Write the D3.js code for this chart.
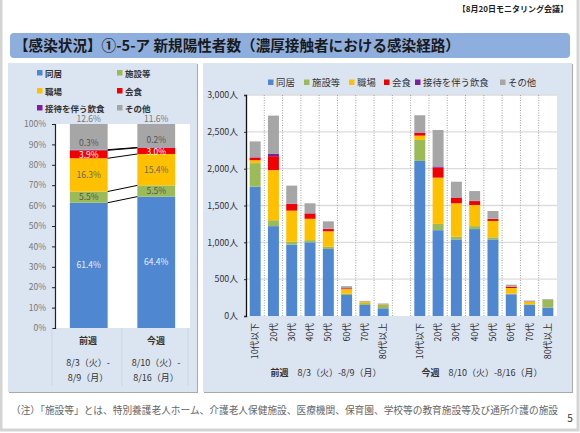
<!DOCTYPE html>
<html>
<head>
  <meta charset="utf-8">
  <script src="https://d3js.org/d3.v7.min.js"></script>
  <style>
    body { margin: 0; background: #fff; }
    text { font-family: "Noto Sans CJK JP", "Noto Sans", sans-serif; }
  </style>
</head>
<body>
  <div id="chart"></div>
  <script>
    // series shared by both charts
    var seriesNames = ["同居", "施設等", "職場", "会食", "接待を伴う飲食", "その他"];
    var seriesColors = ["#4f87d1", "#9bbb59", "#ffc000", "#f00000", "#7a1fa2", "#a6a6a6"];

    // left chart: share by week (%)
    var weeks = ["前週", "今週"];
    var weekDates1 = ["8/3（火）-", "8/10（火）-"];
    var weekDates2 = ["8/9（月）", "8/16（月）"];
    var shareDokyo = [61.4, 64.4];
    var shareShisetsu = [5.5, 5.5];
    var shareShokuba = [16.3, 15.4];
    var shareKaishoku = [3.9, 3.0];
    var shareSettai = [0.3, 0.2];
    var shareSonota = [12.6, 11.6];
    var percentTicks = [0, 10, 20, 30, 40, 50, 60, 70, 80, 90, 100];

    // right chart: people by age, 8 ages + empty slot + 8 ages
    var ages = ["10代以下", "20代", "30代", "40代", "50代", "60代", "70代", "80代以上", "",
                "10代以下", "20代", "30代", "40代", "50代", "60代", "70代", "80代以上"];
    var countDokyo = [1755, 1220, 970, 1000, 910, 285, 150, 105, 0, 2105, 1165, 1040, 1180, 1040, 295, 150, 115];
    var countShisetsu = [320, 80, 40, 30, 30, 20, 25, 50, 0, 285, 85, 37, 40, 28, 10, 10, 105];
    var countShokuba = [40, 680, 420, 290, 210, 60, 20, 5, 0, 58, 628, 453, 287, 222, 75, 30, 0];
    var countKaishoku = [35, 190, 90, 70, 30, 10, 2, 2, 0, 36, 135, 75, 53, 26, 15, 5, 0];
    var countSettai = [5, 30, 5, 5, 5, 3, 1, 0, 0, 6, 17, 5, 5, 4, 2, 0, 0];
    var countSonota = [215, 520, 245, 135, 100, 27, 7, 8, 0, 235, 495, 213, 131, 105, 28, 15, 10];
    var countTicks = [0, 500, 1000, 1500, 2000, 2500, 3000];

    var svg = d3.select("#chart").append("svg")
      .attr("width", 580).attr("height", 433)
      .style("display", "block");

    // slide frame
    svg.append("rect").attr("x", 1).attr("y", -2).attr("width", 577).attr("height", 432)
      .attr("fill", "#fff").attr("stroke", "#d4d4d4").attr("stroke-width", 3);

    svg.append("text").attr("x", 568).attr("y", 12).attr("text-anchor", "end")
      .style("font-size", "8px").style("font-weight", "bold").attr("fill", "#222")
      .text("【8月20日モニタリング会議】");

    // title bar
    svg.append("rect").attr("x", 10).attr("y", 33).attr("width", 560).attr("height", 25).attr("rx", 4)
      .attr("fill", "#8eaedd");
    svg.append("text").attr("x", 14).attr("y", 51)
      .style("font-size", "14.6px").style("font-weight", "bold").attr("fill", "#1a1a1a")
      .text("【感染状況】①-5-ア 新規陽性者数（濃厚接触者における感染経路）");

    // panels
    var panels = [[8, 189], [203, 369]];
    svg.selectAll(".shadow").data(panels).enter().append("rect")
      .attr("x", function(d) { return d[0] + 1; }).attr("y", 64)
      .attr("width", function(d) { return d[1]; }).attr("height", 329)
      .attr("fill", "#a9a9a9");
    svg.selectAll(".panel").data(panels).enter().append("rect")
      .attr("x", function(d) { return d[0]; }).attr("y", 63)
      .attr("width", function(d) { return d[1]; }).attr("height", 329)
      .attr("fill", "#dbe4f1");

    // ---- left chart ----
    var leftTop = 124, leftBottom = 328, leftX0 = 55, leftX1 = 190;
    var shareRows = weeks.map(function(w, i) {
      return {
        week: w,
        "同居": shareDokyo[i], "施設等": shareShisetsu[i], "職場": shareShokuba[i],
        "会食": shareKaishoku[i], "接待を伴う飲食": shareSettai[i], "その他": shareSonota[i]
      };
    });
    var shareStack = d3.stack().keys(seriesNames)(shareRows);

    var xLeft = d3.scaleBand().domain(weeks).range([leftX0, leftX1]).paddingInner(0.44).paddingOuter(0.22);
    var yLeft = d3.scaleLinear().domain([0, 100]).range([leftBottom, leftTop]);

    svg.append("rect").attr("x", leftX0).attr("y", leftTop)
      .attr("width", leftX1 - leftX0).attr("height", leftBottom - leftTop).attr("fill", "#fff");

    shareStack.forEach(function(s, si) {
      svg.append("g").selectAll("rect").data(s).enter().append("rect")
        .attr("x", function(d) { return xLeft(d.data.week); })
        .attr("y", function(d) { return yLeft(Math.min(d[1], 100)); })
        .attr("width", xLeft.bandwidth())
        .attr("height", function(d) { return yLeft(d[0]) - yLeft(Math.min(d[1], 100)); })
        .attr("fill", seriesColors[si]);
    });

    // series lines between the two bars
    shareStack.slice(0, 5).forEach(function(s) {
      svg.append("line")
        .attr("x1", xLeft(weeks[0]) + xLeft.bandwidth()).attr("y1", yLeft(s[0][1]))
        .attr("x2", xLeft(weeks[1])).attr("y2", yLeft(s[1][1]))
        .attr("stroke", "#000").attr("stroke-width", 1);
    });

    // value labels
    var labelColors = ["#e8f0ff", "#555", "#666", "#fff", "#555", "#777"];
    shareStack.forEach(function(s, si) {
      svg.append("g").selectAll("text").data(s).enter().append("text")
        .attr("x", function(d) { return xLeft(d.data.week) + xLeft.bandwidth() / 2; })
        .attr("y", function(d) {
          if (si == 5) return yLeft(100) - 2;
          if (si == 4) return yLeft(d[1]) - 4;
          if (si == 3) return yLeft((d[0] + d[1]) / 2) + 4;
          return yLeft((d[0] + d[1]) / 2) + 3;
        })
        .attr("text-anchor", "middle")
        .style("font-size", "8.5px")
        .attr("fill", labelColors[si])
        .text(function(d) { return (d[1] - d[0]).toFixed(1) + "%"; });
    });

    var axisLeftG = svg.append("g").attr("transform", "translate(" + leftX0 + ",0)")
      .call(d3.axisLeft(yLeft).tickValues(percentTicks).tickFormat(function(d) { return d + "%"; }).tickSize(3).tickPadding(6));
    axisLeftG.select(".domain").attr("stroke", "#222").attr("stroke-width", 1.2);
    axisLeftG.selectAll("line").attr("stroke", "#222");
    axisLeftG.selectAll("text").style("font-size", "8.5px").attr("fill", "#777");

    // left legend
    var leftLegendPos = [[37, 73], [117, 73], [37, 91], [117, 91], [37, 108], [117, 108]];
    seriesNames.forEach(function(n, i) {
      var p = leftLegendPos[i];
      svg.append("rect").attr("x", p[0]).attr("y", p[1] - 3).attr("width", 5.5).attr("height", 5.5).attr("fill", seriesColors[i]);
      svg.append("text").attr("x", p[0] + 8).attr("y", p[1] + 3.5)
        .style("font-size", "8.5px").style("font-weight", "bold").attr("fill", "#333").text(n);
    });

    // table under the left chart
    [52, 122, 188].forEach(function(x) {
      svg.append("line").attr("x1", x).attr("x2", x).attr("y1", 328).attr("y2", 386)
        .attr("stroke", "#cdd7e6");
    });
    var tableX = [88, 156];
    weeks.forEach(function(w, i) {
      svg.append("text").attr("x", tableX[i]).attr("y", 344).attr("text-anchor", "middle")
        .style("font-size", "9px").style("font-weight", "bold").attr("fill", "#333").text(w);
      svg.append("text").attr("x", tableX[i]).attr("y", 366).attr("text-anchor", "middle")
        .style("font-size", "9px").attr("fill", "#333").text(weekDates1[i]);
      svg.append("text").attr("x", tableX[i]).attr("y", 381).attr("text-anchor", "middle")
        .style("font-size", "9px").attr("fill", "#333").text(weekDates2[i]);
    });

    // ---- right chart ----
    var rightTop = 95, rightBottom = 316, rightX0 = 246, rightX1 = 557;
    var countRows = ages.map(function(a, i) {
      return {
        idx: i,
        "同居": countDokyo[i], "施設等": countShisetsu[i], "職場": countShokuba[i],
        "会食": countKaishoku[i], "接待を伴う飲食": countSettai[i], "その他": countSonota[i]
      };
    });
    var countStack = d3.stack().keys(seriesNames)(countRows);

    var xRight = d3.scaleBand().domain(d3.range(ages.length)).range([rightX0, rightX1]).paddingInner(0.4).paddingOuter(0.2);
    var yRight = d3.scaleLinear().domain([0, 3000]).range([rightBottom, rightTop]);

    svg.append("rect").attr("x", rightX0).attr("y", rightTop)
      .attr("width", rightX1 - rightX0).attr("height", rightBottom - rightTop).attr("fill", "#fff");

    // grid
    svg.append("g").selectAll("line").data(countTicks.slice(1)).enter().append("line")
      .attr("x1", rightX0).attr("x2", rightX1)
      .attr("y1", function(d) { return yRight(d); }).attr("y2", function(d) { return yRight(d); })
      .attr("stroke", "#dcdcdc").attr("stroke-width", 1.3);
    svg.append("g").selectAll("line").data(d3.range(1, ages.length)).enter().append("line")
      .attr("x1", function(d) { return xRight(d) - xRight.step() * 0.2; })
      .attr("x2", function(d) { return xRight(d) - xRight.step() * 0.2; })
      .attr("y1", rightTop).attr("y2", rightBottom)
      .attr("stroke", "#a0a0a0").attr("stroke-dasharray", "1,1.5");

    countStack.forEach(function(s, si) {
      svg.append("g").selectAll("rect").data(s).enter().append("rect")
        .attr("x", function(d) { return xRight(d.data.idx); })
        .attr("y", function(d) { return yRight(d[1]); })
        .attr("width", xRight.bandwidth())
        .attr("height", function(d) { return yRight(d[0]) - yRight(d[1]); })
        .attr("fill", seriesColors[si]);
    });

    var axisY = svg.append("g").attr("transform", "translate(" + rightX0 + ",0)")
      .call(d3.axisLeft(yRight).tickValues(countTicks).tickFormat(function(d) { return d3.format(",")(d) + "人"; }).tickSize(2).tickPadding(6));
    axisY.select(".domain").attr("stroke", "#111").attr("stroke-width", 1.3);
    axisY.selectAll("line").attr("stroke", "#333");
    axisY.selectAll("text").style("font-size", "8.8px").attr("fill", "#333");

    var axisX = svg.append("g").attr("transform", "translate(0," + rightBottom + ")")
      .call(d3.axisBottom(xRight).tickFormat(function(d) { return ages[d]; }).tickSize(0));
    axisX.select(".domain").remove();
    axisX.selectAll("text")
      .attr("transform", "rotate(-90)")
      .attr("x", -7).attr("y", 0).attr("dy", "0.35em")
      .attr("text-anchor", "end")
      .style("font-size", "8.8px").attr("fill", "#333");

    // right legend
    var rightLegendX = [268, 304, 349, 384, 415, 500];
    seriesNames.forEach(function(n, i) {
      svg.append("rect").attr("x", rightLegendX[i]).attr("y", 79.5).attr("width", 5.5).attr("height", 5.5).attr("fill", seriesColors[i]);
      svg.append("text").attr("x", rightLegendX[i] + 8).attr("y", 86)
        .style("font-size", "9.4px").attr("fill", "#333").text(n);
    });

    var rightCaptions = [["前週", "8/3（火）-8/9（月）", 326], ["今週", "8/10（火）-8/16（月）", 482]];
    rightCaptions.forEach(function(c) {
      var t = svg.append("text").attr("x", c[2]).attr("y", 375.5).attr("text-anchor", "middle")
        .style("font-size", "9px").attr("fill", "#333");
      t.append("tspan").style("font-weight", "bold").text(c[0]);
      t.append("tspan").attr("dx", 9).text(c[1]);
    });

    // footnote
    svg.append("text").attr("x", 11).attr("y", 414)
      .style("font-size", "9.7px").attr("fill", "#666")
      .text("（注）「施設等」とは、特別養護老人ホーム、介護老人保健施設、医療機関、保育園、学校等の教育施設等及び通所介護の施設");
    svg.append("text").attr("x", 570).attr("y", 422).attr("text-anchor", "middle")
      .style("font-size", "10px").attr("fill", "#333").text("5");
  </script>
</body>
</html>
